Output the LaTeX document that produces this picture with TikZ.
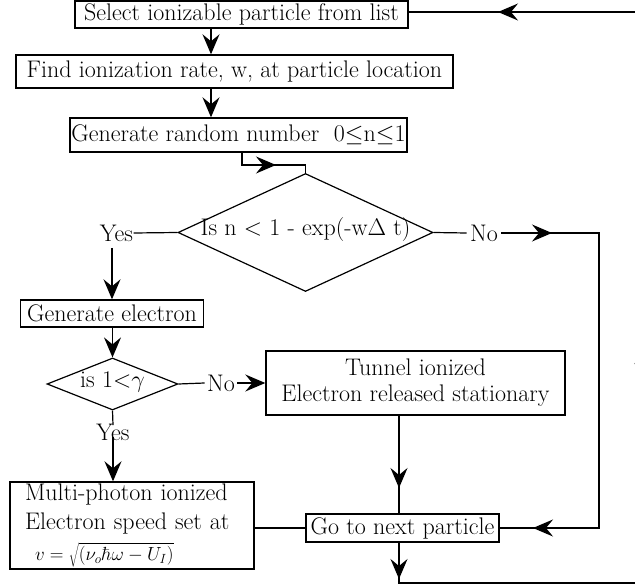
\documentclass[tikz,border=0pt]{standalone}
\usepackage{fix-cm}
\usetikzlibrary{arrows.meta,shapes.geometric}

\tikzset{
  >={Stealth[length=20pt,width=17pt,inset=7pt]},
  box/.style={draw, rectangle, inner sep=0pt, line width=1.4pt},
  dia/.style={draw, diamond, inner sep=0pt, line width=1.2pt},
  lbl/.style={inner sep=0pt},
}

\begin{document}
\begin{tikzpicture}[x=1pt,y=-1pt, line width=1.2pt, font=\fontsize{24}{28}\selectfont]
\useasboundingbox (0,0) rectangle (635,588);
\clip (0,0) rectangle (635,588);

% process boxes
\node[box, minimum width=333pt, minimum height=27pt] (sel) at (241.5,14.5) {Select ionizable particle from list};
\node[box, minimum width=437pt, minimum height=33pt] (rate) at (234.5,71.5) {Find ionization rate, w, at particle location\hspace{14pt}};
\node[box, minimum width=337pt, minimum height=34pt] (rand) at (238.5,135) {Generate random number \ 0$\leq$n$\leq$1};

% first decision
\node[dia, minimum width=255pt, minimum height=118pt] (d1) at (305.5,232.5) {};
\node[lbl] (d1t) at (305.5,230) {Is n < 1 - exp(-w$\Delta$ t)};
\node[lbl] (yes1) at (116.5,233) {Yes};
\node[lbl] (no1) at (484,233) {No};

\node[box, minimum width=183pt, minimum height=27pt] (gen) at (112,313.5) {Generate electron};

% second decision
\node[dia, minimum width=131pt, minimum height=52pt] (d2) at (112.5,384) {};
\node[lbl] (d2t) at (112.5,382) {is 1<$\gamma$};
\node[lbl] (no2) at (221,383) {No};
\node[lbl] (yes2) at (113,432) {Yes};

\node[box, minimum width=299pt, minimum height=64pt, align=center] (tun) at (415.5,383)
  {Tunnel ionized\\[-2pt]Electron released stationary};

\node[box, minimum width=244pt, minimum height=87pt, align=left, text width=214pt] (multi) at (132,525.5)
  {Multi-photon ionized\\[1pt]Electron speed set at\\[3pt]
   \hspace*{10pt}{\fontsize{19}{20}\selectfont $v=\sqrt{(\nu_o\hbar\omega-U_I)}$}};

\node[box, minimum width=193pt, minimum height=28pt] (go) at (402.5,528) {Go to next particle};

% helper coordinates for the loop-back paths
\coordinate (vx) at (399,0);
\coordinate (ax) at (211,0);
\coordinate (c1) at (242,165);
\coordinate (c2) at (305.5,165);
\coordinate (r1) at (599,233);
\coordinate (r2) at (599,528);
\coordinate (b1) at (399,583);
\coordinate (b2) at (660,583);
\coordinate (t1) at (660,12);

% top of the loop
\draw (t1) -- (sel.east |- t1);
\draw[->] (t1) -- (498,12);
\draw[->] (sel.south -| ax) -- (rate.north -| ax);
\draw[->] (rate.south -| ax) -- (rand.north -| ax);

% random number to first decision
\draw (rand.south -| c1) -- (c1) -- (c2) -- (d1.north);
\draw[->] (c1) -- (276,165);

% yes branch
\draw (d1.west) -- (yes1.east);
\draw[->] (yes1.south -| gen.north) ++(0,6) -- (gen.north);
\draw[->] (gen.south -| d2.north) -- (d2.north);
\draw (d2.south) -- ([yshift=-2pt]yes2.north);
\draw[->] ([yshift=4pt]yes2.south) -- (multi.north -| yes2.south);
\draw (multi.east |- go.west) -- (go.west);

% no branches
\draw (d1.east) -- ([xshift=-3pt]no1.west);
\draw ([xshift=3pt]no1.east) -- (r1) -- (r2) -- (go.east);
\draw[->] ([xshift=3pt]no1.east) -- (552,233);
\draw[->] (r2) -- (533,528);
\draw (d2.east) -- ([xshift=-2pt]no2.west);
\draw[->] ([xshift=2pt]no2.east) -- (tun.west |- no2.east);

% tunnel to next particle
\draw (tun.south -| vx) -- (go.north -| vx);
\draw[->] (tun.south -| vx) -- (399,488);

% next particle back round
\draw (go.south -| vx) -- (b1) -- (b2);
\draw[->] (go.south -| vx) -- (399,579);

% return arrow running up beyond the right edge
\coordinate (u1) at (643,450);
\coordinate (u2) at (643,344);
\draw[->] (u1) -- (u2);
\end{tikzpicture}
\end{document}
